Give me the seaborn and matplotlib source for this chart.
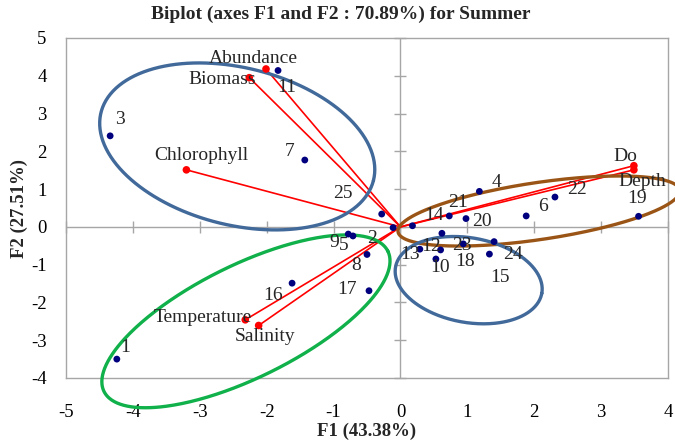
import numpy as np
import pandas as pd
import matplotlib
matplotlib.use("Agg")
import matplotlib.pyplot as plt
import seaborn as sns

# ---------------- data ----------------
obs_labels = [str(i) for i in range(1, 26)]
obs_f1 = [-4.24, -0.11, -4.34, 1.18, -0.71, 1.88, -1.43, -0.50, -0.78, 0.53,
          -1.83, 0.60, 0.29, 0.18, 1.33, -1.62, -0.47, 0.94, 3.56, 0.98,
          0.73, 2.31, 0.62, 1.40, -0.28]
obs_f2 = [-3.50, -0.02, 2.41, 0.94, -0.24, 0.29, 1.77, -0.73, -0.19, -0.85,
          4.14, -0.61, -0.59, 0.03, -0.72, -1.49, -1.69, -0.45, 0.28, 0.22,
          0.29, 0.79, -0.17, -0.39, 0.34]

var_labels = ["Abundance", "Biomass", "Chlorophyll", "Temperature", "Salinity", "Do", "Depth"]
var_f1 = [-2.01, -2.26, -3.20, -2.32, -2.12, 3.49, 3.49]
var_f2 = [4.18, 3.95, 1.51, -2.46, -2.61, 1.62, 1.51]

x_ticks = [-5, -4, -3, -2, -1, 0, 1, 2, 3, 4]
y_ticks = [-4, -3, -2, -1, 0, 1, 2, 3, 4, 5]

title = "Biplot (axes F1 and F2 : 70.89%) for Summer"
x_title = "F1 (43.38%)"
y_title = "F2 (27.51%)"

# ---------------- layout / style ----------------
# label offsets in pixels (right, down)
obs_offsets = [(8, -12), (-21, 11), (10, -16), (17, -9), (-9, 10), (17, -9), (-15, -9),
               (-11, 11), (-14, 8), (4, 9), (9, 17), (-9, -3), (-10, 5), (22, -10),
               (11, 23), (-19, 12), (-22, -1), (2, 18), (-2, -18), (16, 3), (9, -13),
               (22, -8), (20, 12), (19, 13), (-39, -21)]
var_offsets = [(-13, -10), (-27, 2), (15, -14), (-42, -2), (6, 11), (-9, -9), (8, 12)]

# ellipses: center (data), semi axes (px), angle (deg), color
ellipses = [
    dict(c=(-2.44, 2.13), a=140.4, b=78.6, ang=-14.0, col="#41699A"),
    dict(c=(-2.31, -2.50), a=158.3, b=56.3, ang=26.3, col="#10B04A"),
    dict(c=(2.07, 0.42), a=142.4, b=28.5, ang=8.4, col="#9A5516"),
    dict(c=(1.02, -1.41), a=74.3, b=42.3, ang=-10.2, col="#41699A"),
]

sns.set_theme(style="white")
plt.rcParams["font.family"] = ["Liberation Serif", "DejaVu Serif"]
plt.rcParams["axes.unicode_minus"] = False

GRAY = "#A6A6A6"
DPI = 100
fig = plt.figure(figsize=(6.75, 4.41), dpi=DPI)
ax = fig.add_axes([66 / 675, 1 - 378 / 441, (668 - 66) / 675, (378 - 38) / 441])

ax.set_xlim(x_ticks[0], x_ticks[-1])
ax.set_ylim(y_ticks[0], y_ticks[-1])
ax.set_xticks(x_ticks)
ax.set_yticks(y_ticks)
ax.tick_params(length=0, labelsize=13.5, colors="black")
ax.tick_params(axis="x", pad=19)
ax.tick_params(axis="y", pad=14)
for s in ax.spines.values():
    s.set_color(GRAY)
    s.set_linewidth(1.0)

# zero axes with crossing ticks
ax.axhline(0, color=GRAY, lw=1.0, zorder=1)
ax.axvline(0, color=GRAY, lw=1.0, zorder=1)
ax.plot(x_ticks, [0] * len(x_ticks), ls="none", marker="|", ms=8, mew=1.0, color=GRAY, zorder=1, clip_on=False)
ax.plot([0] * len(y_ticks), y_ticks, ls="none", marker="_", ms=8, mew=1.0, color=GRAY, zorder=1, clip_on=False)

# variable vectors
for vx, vy in zip(var_f1, var_f2):
    ax.plot([0, vx], [0, vy], color="red", lw=1.2, zorder=2)

df_obs = pd.DataFrame({"F1": obs_f1, "F2": obs_f2, "label": obs_labels})
df_var = pd.DataFrame({"F1": var_f1, "F2": var_f2, "label": var_labels})

sns.scatterplot(data=df_obs, x="F1", y="F2", color="#00007F", s=24, edgecolor="none",
                ax=ax, zorder=4, legend=False)
sns.scatterplot(data=df_var, x="F1", y="F2", color="red", s=30, edgecolor="none",
                ax=ax, zorder=4, legend=False)

for lab, x, y, (dx, dy) in zip(obs_labels, obs_f1, obs_f2, obs_offsets):
    ax.annotate(lab, (x, y), xytext=(dx, -dy), textcoords="offset pixels",
                ha="center", va="center", fontsize=14, zorder=5)
for lab, x, y, (dx, dy) in zip(var_labels, var_f1, var_f2, var_offsets):
    ax.annotate(lab, (x, y), xytext=(dx, -dy), textcoords="offset pixels",
                ha="center", va="center", fontsize=14, zorder=5)

# ellipses (pixel-space geometry)
t = np.linspace(0, 2 * np.pi, 400)
for e in ellipses:
    phi = np.deg2rad(e["ang"])
    u = e["a"] * np.cos(t)
    v = e["b"] * np.sin(t)
    X = u * np.cos(phi) - v * np.sin(phi)
    Y = u * np.sin(phi) + v * np.cos(phi)
    cen = ax.transData.transform(e["c"])
    pts = np.column_stack([cen[0] + X, cen[1] + Y])
    d = ax.transData.inverted().transform(pts)
    ax.plot(d[:, 0], d[:, 1], color=e["col"], lw=2.4, zorder=3, clip_on=False)

ax.set_xlabel(x_title, fontsize=13.5, fontweight="bold", labelpad=1)
ax.set_ylabel(y_title, fontsize=13.5, fontweight="bold", labelpad=2)
fig.text(341 / 675, 1 - 14 / 441, title, ha="center", va="center",
         fontsize=14, fontweight="bold")

fig.savefig("out.png", dpi=DPI)
